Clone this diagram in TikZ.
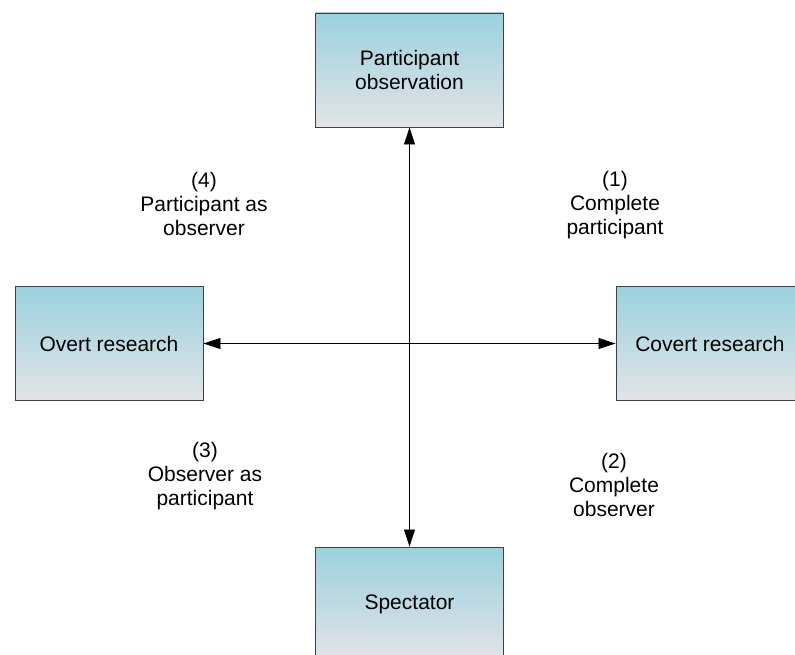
\documentclass[tikz,border=0pt]{standalone}
\usepackage{fontspec}
\setmainfont{Liberation Sans}
\usetikzlibrary{arrows.meta}
\definecolor{boxtop}{RGB}{155,209,223}
\definecolor{boxbot}{RGB}{226,228,230}
\definecolor{boxline}{RGB}{64,64,64}
\tikzset{
  rolebox/.style={rectangle,draw=boxline,line width=0.9pt,top color=boxtop,bottom color=boxbot,
    minimum width=188pt,minimum height=114pt,align=center,inner sep=0pt},
  rolelabel/.style={align=center,inner sep=0pt},
  axisline/.style={line width=0.8pt,{Triangle[length=17pt,width=11pt]}-{Triangle[length=17pt,width=11pt]}}
}

\begin{document}
\begin{tikzpicture}[x=1pt,y=-1pt,font=\fontsize{21}{24}\selectfont]
          \useasboundingbox (0,0) rectangle (795,655);
          \clip (0,0) rectangle (795,655);
          % the four boxes
          \node[rolebox] (partobs) at (409.5,70) {Participant\\observation};
          \node[rolebox] (overt) at (109,343.5) {Overt research};
          \node[rolebox] (covert) at (710,343.5) {Covert research};
          \node[rolebox] (spect) at (409.5,604) {Spectator};
          \draw[axisline] (partobs.south) -- (spect.north);
          \draw[axisline] (overt.east) -- (covert.west);
          % the quadrants
          \node[rolelabel] (roleone) at (615,205) {(1)\\Complete\\participant};
          \node[rolelabel] (roletwo) at (614,484.5) {(2)\\Complete\\observer};
          \node[rolelabel] (rolethree) at (205,476) {(3)\\Observer as\\participant};
          \node[rolelabel] (rolefour) at (204,204) {(4)\\Participant as\\observer};
        \end{tikzpicture}
\end{document}
